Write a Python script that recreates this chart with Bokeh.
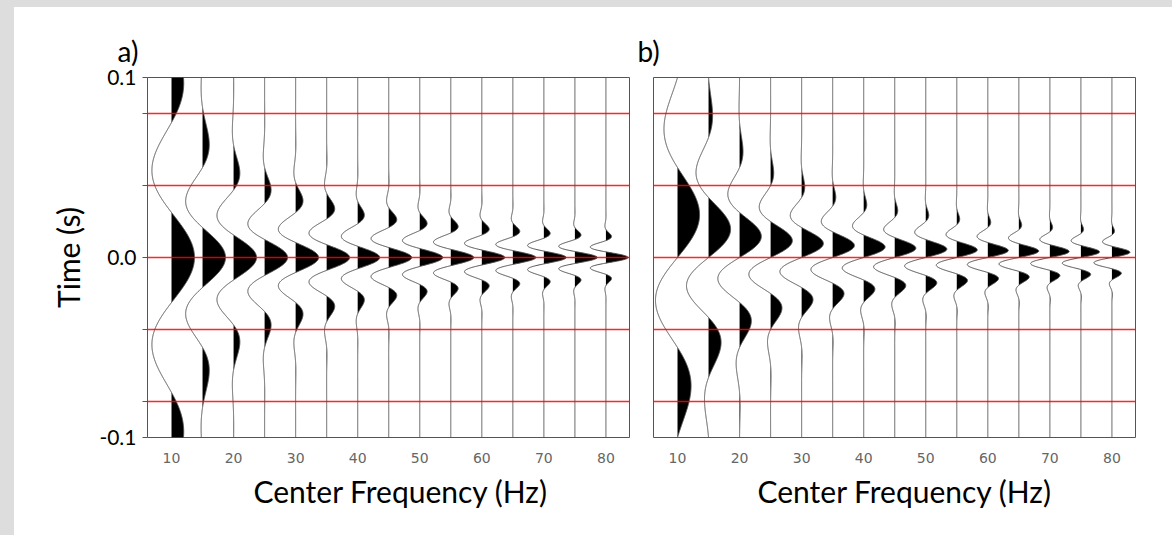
import numpy as np
from bokeh.plotting import figure
from bokeh.models import FixedTicker, Div, Title
from bokeh.layouts import row, column
from bokeh.embed import file_html
from bokeh.resources import INLINE

# ---------------- data ----------------
freqs = [10, 15, 20, 25, 30, 35, 40, 45, 50, 55, 60, 65, 70, 75, 80]
x_tick_values = [10, 20, 30, 40, 50, 60, 70, 80]
x_tick_labels = ["10", "20", "30", "40", "50", "60", "70", "80"]
y_tick_values = [-0.1, 0.0, 0.1]
y_tick_labels = ["-0.1", "0.0", "0.1"]
red_line_times = [-0.08, -0.04, 0.0, 0.04, 0.08]

# panel a) zero-phase wavelets: main peak deflection (Hz units) and side-lobe ratio at one period
peak_a = [3.7, 3.7, 3.7, 3.7, 3.7, 3.7, 3.55, 3.7, 3.7, 3.7, 3.7, 3.7, 3.6, 3.6, 3.55]
side_a = [0.52, 0.27, 0.25, 0.26, 0.30, 0.33, 0.28, 0.33, 0.30, 0.30, 0.30, 0.28, 0.26, 0.25, 0.23]
# panel b) 90-degree wavelets: main lobe deflection and ratio of the 3/4-period lobe to main lobe
peak_b = [3.55, 3.55, 3.5, 3.5, 3.5, 3.5, 3.45, 3.4, 3.4, 3.3, 3.3, 3.2, 3.1, 3.0, 2.9]
side_b = [0.60, 0.55, 0.52, 0.50, 0.50, 0.50, 0.50, 0.50, 0.50, 0.50, 0.50, 0.50, 0.50, 0.50, 0.50]

panel_labels = ["a)", "b)"]
x_title = "Center Frequency (Hz)"
y_title = "Time (s)"

# ---------------- styling ----------------
FONT = "Lato"
GRAY_BG = "#dddddd"
TRACE_COLOR = "#4d4d4d"
RED = "red"
X0, X1 = 6.13, 83.8
t = np.linspace(-0.1, 0.1, 1601)


def wavelet_a(f, side):
    x = f * t
    return np.cos(2 * np.pi * x) * side ** (x * x)


def wavelet_b(f, side):
    x = f * t
    w = np.sin(2 * np.pi * x) * side ** (2 * x * x)
    return w / np.max(w)


def make_panel(kind, title, title_offset, xtitle_offset, min_left, min_right, min_top, min_bottom, width):
    p = figure(width=width, height=528, x_range=(X0, X1), y_range=(-0.1, 0.1),
               output_backend="svg", toolbar_location=None,
               min_border_left=min_left, min_border_right=min_right,
               min_border_top=min_top, min_border_bottom=min_bottom)
    p.grid.visible = False
    p.outline_line_color = "#555555"
    p.outline_line_width = 1
    p.background_fill_color = "white"
    p.border_fill_color = "white"

    p.title.text = title
    p.title.align = "left"
    p.title.offset = title_offset
    p.title.text_font = FONT
    p.title.text_font_size = "28px"
    p.title.text_font_style = "normal"
    p.title.text_color = "black"
    p.title.standoff = 19

    xs, ys = [], []
    for i, f in enumerate(freqs):
        if kind == "a":
            w = wavelet_a(f, side_a[i]) * peak_a[i]
        else:
            w = wavelet_b(f, side_b[i]) * peak_b[i]
        xtr = f + w
        fill = f + np.clip(w, 0, None)
        p.harea(x1=np.full_like(t, f), x2=fill, y=t, fill_color="black", fill_alpha=1.0)
        xs.append(list(xtr))
        ys.append(list(t))
    p.multi_line(xs=xs, ys=ys, line_color=TRACE_COLOR, line_width=1)

    n = len(red_line_times)
    p.segment(x0=[X0] * n, x1=[X1] * n, y0=red_line_times, y1=red_line_times,
              line_color=RED, line_width=1.3, line_alpha=0.85)

    xa = p.xaxis[0]
    xa.ticker = FixedTicker(ticks=x_tick_values)
    xa.major_label_overrides = {v: s for v, s in zip(x_tick_values, x_tick_labels)}
    xa.major_tick_line_color = None
    xa.minor_tick_line_color = None
    xa.axis_line_color = None
    xa.major_label_text_font = "DejaVu Sans"
    xa.major_label_text_font_size = "14px"
    xa.major_label_text_color = "#666666"
    xa.major_label_standoff = 9

    xt = Title(text=x_title, align="left", offset=xtitle_offset, text_font=FONT,
               text_font_size="30px", text_font_style="normal", text_color="black", standoff=10)
    p.add_layout(xt, "below")

    ya = p.yaxis[0]
    if kind == "a":
        ya.ticker = FixedTicker(ticks=y_tick_values, minor_ticks=[-0.08, -0.04, 0.04, 0.08])
        ya.major_label_overrides = {v: s for v, s in zip(y_tick_values, y_tick_labels)}
        ya.axis_line_color = None
        ya.major_tick_line_color = "#555555"
        ya.minor_tick_line_color = "#555555"
        ya.major_tick_out = 5
        ya.major_tick_in = 0
        ya.minor_tick_out = 5
        ya.minor_tick_in = 0
        ya.major_label_text_font = FONT
        ya.major_label_text_font_size = "21px"
        ya.major_label_text_color = "black"
        ya.major_label_standoff = 6
        ya.axis_label = y_title
        ya.axis_label_text_font = FONT
        ya.axis_label_text_font_size = "30px"
        ya.axis_label_text_font_style = "normal"
        ya.axis_label_text_color = "black"
        ya.axis_label_standoff = 10
    else:
        ya.visible = False
    return p


pa = make_panel("a", panel_labels[0], -30, 106, 133, 2, 68, 98, 617)
pb = make_panel("b", panel_labels[1], -16, 104, 22, 37, 70, 96, 541)

top_strip = Div(text="", width=1172, height=7, margin=0, styles={"background-color": GRAY_BG})
left_strip = Div(text="", width=14, height=528, margin=0, styles={"background-color": GRAY_BG})

layout = column(top_strip, row(left_strip, pa, pb, spacing=0), spacing=0)

open("out.html", "w").write(file_html(layout, INLINE))
